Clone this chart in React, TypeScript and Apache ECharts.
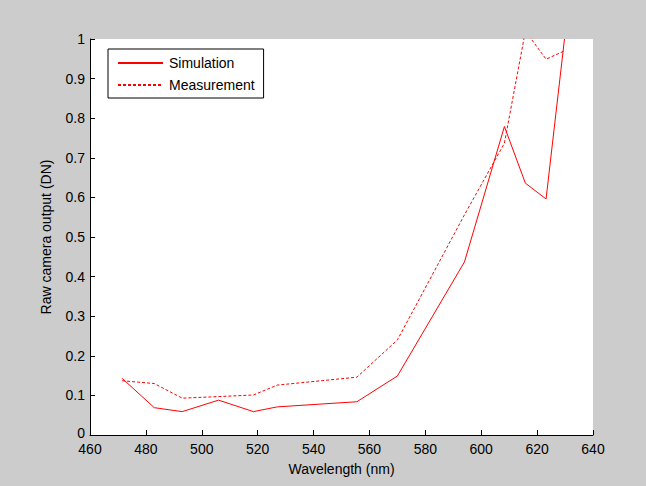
import React, { useEffect, useRef } from "react";
import * as echarts from "echarts";

const wavelengths = [471.5, 483, 493, 506, 518.5, 527, 555.5, 570, 594, 608.3, 615.8, 623.2, 629.8];
const simulation = [0.143, 0.069, 0.059, 0.088, 0.059, 0.071, 0.084, 0.149, 0.437, 0.779, 0.636, 0.596, 1.0];
const measurement = [0.137, 0.13, 0.093, 0.097, 0.101, 0.126, 0.146, 0.24, 0.556, 0.737, 1.02, 0.949, 0.97];
const xTicks = { min: 460, max: 640, interval: 20 };
const yTicks = { min: 0, max: 1, interval: 0.1 };

const font = "Arial, 'Liberation Sans', sans-serif";
const fs = 14;

export default function App() {
  const ref = useRef<HTMLDivElement>(null);
  useEffect(() => {
    if (!ref.current) return;
    const chart = echarts.init(ref.current, undefined, { renderer: "svg" });
    chart.setOption({
      animation: false,
      backgroundColor: "#cccccc",
      grid: {
        left: 90,
        right: 53,
        top: 39,
        bottom: 51,
        show: true,
        backgroundColor: "#ffffff",
        borderWidth: 0,
      },
      legend: {
        orient: "vertical",
        left: 108,
        top: 49,
        itemWidth: 45,
        itemHeight: 14,
        itemGap: 8,
        padding: [7, 9, 6, 9],
        backgroundColor: "#ffffff",
        borderColor: "#000000",
        borderWidth: 1,
        borderRadius: 0,
        itemStyle: { opacity: 0 },
        textStyle: { fontFamily: font, fontSize: fs, color: "#000", padding: [0, 0, 0, 1] },
        data: ["Simulation", "Measurement"],
      },
      xAxis: {
        type: "value",
        min: xTicks.min,
        max: xTicks.max,
        interval: xTicks.interval,
        name: "Wavelength (nm)",
        nameLocation: "middle",
        nameGap: 27,
        nameTextStyle: { fontFamily: font, fontSize: fs, color: "#000" },
        axisLine: { show: true, onZero: false, lineStyle: { color: "#000", width: 1 } },
        axisTick: { show: true, inside: true, length: 5, lineStyle: { color: "#000" } },
        axisLabel: { fontFamily: font, fontSize: fs, lineHeight: 12, color: "#000", margin: 8 },
        splitLine: { show: false },
      },
      yAxis: {
        type: "value",
        min: yTicks.min,
        max: yTicks.max,
        interval: yTicks.interval,
        name: "Raw camera output (DN)",
        nameLocation: "middle",
        nameGap: 37,
        nameTextStyle: { fontFamily: font, fontSize: fs, color: "#000" },
        axisLine: { show: true, onZero: false, lineStyle: { color: "#000", width: 1 } },
        axisTick: { show: true, inside: true, length: 5, lineStyle: { color: "#000" } },
        axisLabel: {
          fontFamily: font,
          fontSize: fs,
          lineHeight: 12,
          color: "#000",
          margin: 5,
          formatter: (v: number) => (v === 0 ? "{z|0}" : String(Math.round(v * 10) / 10)),
          rich: { z: { fontFamily: font, fontSize: fs, lineHeight: 12, color: "#000", padding: [0, 0, 4, 0] } },
        },
        splitLine: { show: false },
      },
      series: [
        {
          name: "Simulation",
          type: "line",
          symbol: "none",
          clip: true,
          data: wavelengths.map((w, i) => [w, simulation[i]]),
          lineStyle: { color: "#ff0000", width: 1 },
          itemStyle: { color: "#ff0000" },
        },
        {
          name: "Measurement",
          type: "line",
          symbol: "none",
          clip: true,
          data: wavelengths.map((w, i) => [w, measurement[i]]),
          lineStyle: { color: "#ff0000", width: 1, type: [3, 2] },
          itemStyle: { color: "#ff0000" },
        },
      ],
    });
    return () => chart.dispose();
  }, []);
  return <div ref={ref} style={{ position: "fixed", left: 0, top: 0, width: 646, height: 486 }} />;
}
